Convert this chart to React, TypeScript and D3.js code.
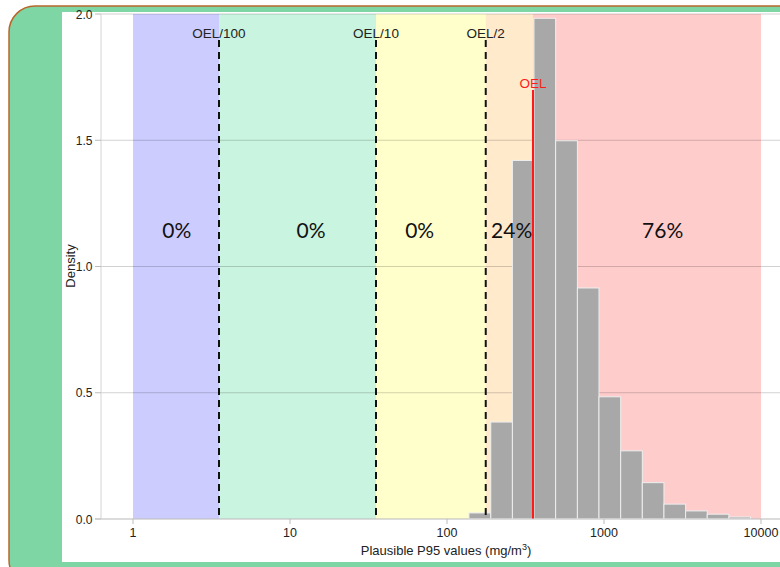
import * as d3 from 'd3'

// histogram of plausible P95 values (log10 bins), density per log10 unit
const binEdges = [138, 190, 261, 358, 492, 677, 929, 1277, 1754, 2409, 3310, 4546, 6245, 8579]
const densities = [0.024, 0.384, 1.42, 1.983, 1.498, 0.915, 0.484, 0.27, 0.144, 0.059, 0.032, 0.019, 0.008]

const OEL = 353
const limitFactors = [0.01, 0.1, 0.5]
const limitLabels = ['OEL/100', 'OEL/10', 'OEL/2']

const bandEdges = [1, OEL / 100, OEL / 10, OEL / 2, OEL, 10000]
const bandColors = ['#ccccff', '#c9f4df', '#ffffcc', '#ffeacc', '#ffcccc']

const pctLabels = ['0%', '0%', '0%', '24%', '76%']
const pctAt = [1.9, 13.6, 67, 258, 2365]

const xTicks = [1, 10, 100, 1000, 10000]
const yTicks = [0, 0.5, 1, 1.5, 2]

const W = 780
const H = 567

export default function App() {
    const x = d3.scaleLog().domain([1, 10000]).range([133, 761])
    const y = d3.scaleLinear().domain([0, 2]).range([519, 14])
    const left = 101
    const right = 790
    const axisFont = '"Liberation Sans", Arial, sans-serif'

    return (
        <svg width={W} height={H} style={{ position: 'absolute', left: 0, top: 0 }}>
            {/* slide frame */}
            <rect x={9} y={6} width={800} height={580} rx={26} fill="#7fd6a5" stroke="#b8672c" strokeWidth={1.5} />
            <rect x={62} y={12} width={740} height={550} fill="#fff" />

            {/* exposure bands */}
            {bandColors.map((c, i) => (
                <rect
                    key={'b' + i}
                    x={x(bandEdges[i])}
                    y={y(2)}
                    width={x(bandEdges[i + 1]) - x(bandEdges[i])}
                    height={y(0) - y(2)}
                    fill={c}
                />
            ))}

            {/* grid */}
            {yTicks.map(t => (
                <line key={'g' + t} x1={left} x2={right} y1={y(t)} y2={y(t)} stroke="#000" strokeOpacity={0.18} strokeWidth={1} />
            ))}
            <line x1={left} x2={left} y1={y(2)} y2={y(0)} stroke="#d4d4d4" />

            {/* histogram */}
            {densities.map((d, i) => (
                <rect
                    key={'h' + i}
                    x={x(binEdges[i])}
                    y={y(d)}
                    width={x(binEdges[i + 1]) - x(binEdges[i])}
                    height={y(0) - y(d)}
                    fill="#a8a8a8"
                    stroke="#eeeeee"
                    strokeWidth={1}
                />
            ))}

            {/* limits */}
            {limitFactors.map((f, i) => (
                <g key={'l' + i}>
                    <line x1={x(OEL * f)} x2={x(OEL * f)} y1={40} y2={y(0)} stroke="#111" strokeWidth={2} strokeDasharray="7,5" />
                    <text x={x(OEL * f)} y={38} textAnchor="middle" fontFamily={axisFont} fontSize={13.5} fill="#222">
                        {limitLabels[i]}
                    </text>
                </g>
            ))}
            <line x1={x(OEL)} x2={x(OEL)} y1={90} y2={y(0)} stroke="#ff1a1a" strokeWidth={2} />
            <text x={x(OEL)} y={88} textAnchor="middle" fontFamily={axisFont} fontSize={13.5} fill="#ff1a1a">
                OEL
            </text>

            {/* percentages */}
            {pctLabels.map((p, i) => (
                <text key={'p' + i} x={x(pctAt[i])} y={238} textAnchor="middle" fontFamily="Lato, sans-serif" fontSize={21} fill="#111">
                    {p}
                </text>
            ))}

            {/* axes */}
            <line x1={95} x2={right} y1={y(0)} y2={y(0)} stroke="#cfcfcf" />
            {yTicks.map(t => (
                <g key={'y' + t}>
                    <line x1={95} x2={left} y1={y(t)} y2={y(t)} stroke="#bbb" />
                    <text x={92.5} y={y(t) + 4.5} textAnchor="end" fontFamily={axisFont} fontSize={12} fill="#222">
                        {d3.format('.1f')(t)}
                    </text>
                </g>
            ))}
            {xTicks.map(t => (
                <g key={'x' + t}>
                    <line x1={x(t)} x2={x(t)} y1={y(0)} y2={y(0) + 5} stroke="#bbb" />
                    <text x={x(t)} y={537} textAnchor="middle" fontFamily={axisFont} fontSize={12.5} fill="#222">
                        {t}
                    </text>
                </g>
            ))}
            <text x={446} y={555} textAnchor="middle" fontFamily={axisFont} fontSize={13} fill="#222">
                Plausible P95 values (mg/m<tspan dy={-5} fontSize={9}>3</tspan><tspan dy={5}>)</tspan>
            </text>
            <text transform="translate(75,266) rotate(-90)" textAnchor="middle" fontFamily={axisFont} fontSize={13} fill="#222">
                Density
            </text>
        </svg>
    )
}
